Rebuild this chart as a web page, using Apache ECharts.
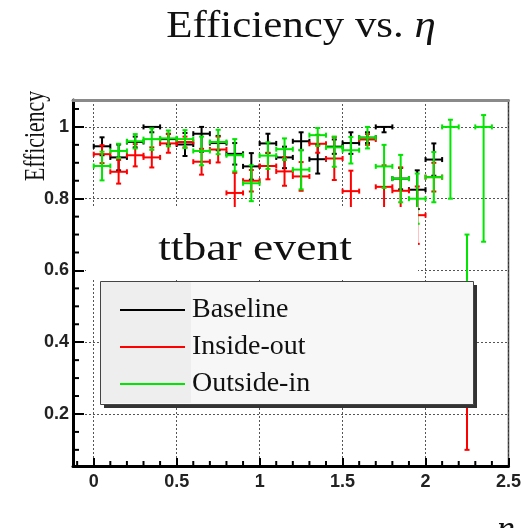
<!DOCTYPE html>
<html>
<head>
<meta charset="utf-8">
<script src="https://cdn.jsdelivr.net/npm/echarts@6/dist/echarts.min.js"></script>
<style>
  html, body { margin: 0; padding: 0; background: #ffffff; }
  #chart { width: 524px; height: 528px; }
</style>
</head>
<body>
<div id="chart"></div>
<script>
// Bin centres in eta (bin width 0.1)
const etaBins = [0.05, 0.15, 0.25, 0.35, 0.45, 0.55, 0.65, 0.75, 0.85, 0.95,
                 1.05, 1.15, 1.25, 1.35, 1.45, 1.55, 1.65, 1.75, 1.85, 1.95,
                 2.05, 2.15, 2.25, 2.35, 2.45];
const binHalfWidth = 0.05;

// Baseline tracking efficiency and its lower / upper errors
const baselineEff   = [0.946, 0.915, 0.958, 1.000, 0.966, 0.951, 0.981, 0.955, 0.925, 0.890,
                       0.954, 0.915, 0.960, 0.910, 0.945, 0.955, 0.970, 1.000, 0.856, 0.825,
                       0.909, null, null, null, null];
const baselineErrLo = [0.025, 0.036, 0.015, 0.015, 0.015, 0.032, 0.050, 0.020, 0.030, 0.037,
                       0.027, 0.030, 0.025, 0.040, 0.020, 0.030, 0.015, 0.015, 0.030, 0.054,
                       0.045, null, null, null, null];
const baselineErrHi = [0.025, 0.036, 0.015, 0.000, 0.015, 0.032, 0.019, 0.020, 0.030, 0.037,
                       0.027, 0.030, 0.025, 0.040, 0.020, 0.030, 0.015, 0.000, 0.030, 0.054,
                       0.045, null, null, null, null];

// Inside-out seeding efficiency (symmetric errors)
const insideOutEff  = [0.924, 0.875, 0.921, 0.915, 0.954, 0.958, 0.903, 0.937, 0.816, 0.850,
                       0.891, 0.876, 0.862, 0.953, 0.912, 0.821, 0.965, 0.833, 0.822, 0.754,
                       0.860, null, 0.250, null, null];
const insideOutErr  = [0.025, 0.033, 0.031, 0.028, 0.026, 0.015, 0.036, 0.036, 0.056, 0.030,
                       0.037, 0.040, 0.040, 0.025, 0.060, 0.057, 0.015, 0.060, 0.065, 0.080,
                       0.040, null, 0.150, null, null];

// Outside-in seeding efficiency and its lower / upper errors
const outsideInEff   = [0.891, 0.933, 0.960, 0.966, 0.968, 0.966, 0.933, 0.958, 0.921, 0.843,
                        0.920, 0.938, 0.881, 0.977, 0.943, 0.935, 0.970, 0.890, 0.856, 0.800,
                        0.860, 1.000, 0.500, 1.000, null];
const outsideInErrLo = [0.040, 0.020, 0.020, 0.030, 0.022, 0.025, 0.040, 0.034, 0.045, 0.050,
                        0.037, 0.030, 0.055, 0.030, 0.054, 0.037, 0.030, 0.060, 0.066, 0.070,
                        0.070, 0.200, 0.200, 0.320, null];
const outsideInErrHi = [0.040, 0.020, 0.020, 0.030, 0.022, 0.025, 0.040, 0.034, 0.045, 0.050,
                        0.037, 0.030, 0.055, 0.020, 0.030, 0.037, 0.030, 0.060, 0.066, 0.070,
                        0.070, 0.020, 0.200, 0.033, null];

// Axis ranges, ticks and labels
const xRange = [-0.125, 2.5];
const yRange = [0.055, 1.075];
const xMajorTicks = [0, 0.5, 1, 1.5, 2, 2.5];
const xMinorTicks = [-0.1, 0.1, 0.2, 0.3, 0.4, 0.6, 0.7, 0.8, 0.9, 1.1, 1.2, 1.3, 1.4,
                     1.6, 1.7, 1.8, 1.9, 2.1, 2.2, 2.3, 2.4];
const yMajorTicks = [0.2, 0.4, 0.6, 0.8, 1];
const yMinorTicks = [0.1, 0.15, 0.25, 0.3, 0.35, 0.45, 0.5, 0.55, 0.65, 0.7, 0.75,
                     0.85, 0.9, 0.95, 1.05];

const seriesNames = ['Baseline', 'Inside-out', 'Outside-in'];
const seriesColors = ['#000000', '#ff0000', '#00e600'];

function buildRows(eff, lo, hi) {
  const rows = [];
  for (let i = 0; i < etaBins.length; i++) {
    if (eff[i] === null) continue;
    rows.push([etaBins[i], eff[i], lo[i], hi[i]]);
  }
  return rows;
}

// Draws one histogram bin: horizontal bar over the bin width, vertical error bar, end caps
function renderCross(params, api) {
  const x = api.value(0), y = api.value(1), lo = api.value(2), hi = api.value(3);
  const c = api.coord([x, y]);
  const l = api.coord([x - binHalfWidth, y]);
  const r = api.coord([x + binHalfWidth, y]);
  const t = api.coord([x, y + hi]);
  const b = api.coord([x, y - lo]);
  const style = { stroke: api.visual('color'), lineWidth: 2 };
  const cap = 2.5;
  const line = (x1, y1, x2, y2) => ({ type: 'line', shape: { x1, y1, x2, y2 }, style });
  const children = [
    line(l[0], c[1], r[0], c[1]),
    line(l[0], c[1] - cap, l[0], c[1] + cap),
    line(r[0], c[1] - cap, r[0], c[1] + cap)
  ];
  if (t[1] < c[1] - 0.5 || b[1] > c[1] + 0.5) {
    children.push(line(c[0], t[1], c[0], b[1]));
    if (hi > 0) children.push(line(c[0] - cap, t[1], c[0] + cap, t[1]));
    if (lo > 0) children.push(line(c[0] - cap, b[1], c[0] + cap, b[1]));
  }
  return { type: 'group', children };
}

// Small inward ticks between the labelled ones
const tickStyle = { stroke: '#000', lineWidth: 2 };
function renderMinorX(params, api) {
  const p = api.coord([api.value(0), yRange[0]]);
  return { type: 'line', shape: { x1: p[0], y1: p[1], x2: p[0], y2: p[1] - 5 }, style: tickStyle };
}
function renderMinorY(params, api) {
  const p = api.coord([xRange[0], api.value(1)]);
  return { type: 'line', shape: { x1: p[0], y1: p[1], x2: p[0] + 6, y2: p[1] }, style: tickStyle };
}

const chart = echarts.init(document.getElementById('chart'), null, { renderer: 'canvas' });

const labelFont = { fontFamily: 'Liberation Sans', fontWeight: 'bold', fontSize: 18, color: '#222' };
const gridLine = { show: true, lineStyle: { color: '#555', type: [2, 2], width: 1 } };

const option = {
  animation: false,
  backgroundColor: '#ffffff',
  legend: {
    orient: 'vertical', left: 115, top: 291, itemGap: 9,
    itemWidth: 65, itemHeight: 2, icon: 'rect',
    data: seriesNames,
    textStyle: { fontFamily: 'Liberation Serif', fontSize: 28, color: '#111', padding: [0, 0, 0, 2] },
    selectedMode: false, z: 10
  },
  grid: { left: 73, right: 12, top: 100, bottom: 62, show: true,
          borderColor: '#333', borderWidth: 1.5, backgroundColor: 'transparent' },
  xAxis: [
    {
      type: 'value', min: xRange[0], max: xRange[1],
      axisLine: { show: true, onZero: false, lineStyle: { color: '#000', width: 3 } },
      axisTick: { show: true, inside: true, length: 8, customValues: xMajorTicks,
                  lineStyle: { color: '#000', width: 2 } },
      axisLabel: { customValues: xMajorTicks, margin: 7, ...labelFont,
                   formatter: v => String(v) },
      splitLine: gridLine
    },
    {
      type: 'value', min: xRange[0], max: xRange[1], position: 'top',
      axisLine: { show: true, onZero: false, lineStyle: { color: '#8a8a8a', width: 3 } },
      axisTick: { show: false }, axisLabel: { show: false }, splitLine: { show: false }
    }
  ],
  yAxis: [
    {
      type: 'value', min: yRange[0], max: yRange[1],
      axisLine: { show: true, onZero: false, lineStyle: { color: '#000', width: 3 } },
      axisTick: { show: true, inside: true, length: 11, customValues: yMajorTicks,
                  lineStyle: { color: '#000', width: 2 } },
      axisLabel: { customValues: yMajorTicks, margin: 4, ...labelFont,
                   formatter: v => String(v) },
      splitLine: gridLine
    }
  ],
  graphic: [
    // plot title
    { type: 'text', x: 301, y: 9, scaleX: 1.16, z: 6,
      style: { text: 'Efficiency vs. {i|η}', font: '37px "Liberation Serif"', fill: '#111',
               align: 'center', verticalAlign: 'top',
               rich: { i: { font: 'italic 37px "Liberation Serif"', fill: '#111' } } } },
    // white pave behind the event label
    { type: 'rect', left: 86, top: 207, shape: { width: 332, height: 73 },
      style: { fill: '#ffffff' }, z: 5 },
    { type: 'text', x: 255, y: 231, scaleX: 1.2, z: 6,
      style: { text: 'ttbar event', font: '38px "Liberation Serif"', fill: '#111',
               align: 'center', verticalAlign: 'top' } },
    // legend frame with drop shadow
    { type: 'rect', left: 104, top: 285, shape: { width: 373, height: 123 },
      style: { fill: '#333333' }, z: 7 },
    { type: 'rect', left: 100, top: 281, shape: { width: 373, height: 123 },
      style: { fill: '#f7f7f7', stroke: '#444', lineWidth: 1 }, z: 8 },
    { type: 'rect', left: 101, top: 282, shape: { width: 90, height: 121 },
      style: { fill: '#eeeeee' }, z: 8 },
    // axis titles
    { type: 'text', x: 36, y: 136, rotation: Math.PI / 2, scaleX: 0.75, z: 6,
      style: { text: 'Efficiency', font: '29px "Liberation Serif"', fill: '#111',
               align: 'center', verticalAlign: 'middle' } },
    { type: 'text', x: 506, y: 513, z: 6,
      style: { text: 'η', font: 'italic 36px "Liberation Serif"', fill: '#111',
               align: 'center', verticalAlign: 'top' } }
  ],
  series: [
    { type: 'custom', renderItem: renderMinorX, clip: false, silent: true, z: 1,
      encode: { x: 0, y: 1 }, data: xMinorTicks.map(v => [v, yRange[0]]) },
    { type: 'custom', renderItem: renderMinorY, clip: false, silent: true, z: 1,
      encode: { x: 0, y: 1 }, data: yMinorTicks.map(v => [xRange[0], v]) },
    { name: seriesNames[0], type: 'custom', renderItem: renderCross, clip: true, z: 2,
      itemStyle: { color: seriesColors[0] },
      encode: { x: 0, y: 1 },
      data: buildRows(baselineEff, baselineErrLo, baselineErrHi) },
    { name: seriesNames[1], type: 'custom', renderItem: renderCross, clip: true, z: 3,
      itemStyle: { color: seriesColors[1] },
      encode: { x: 0, y: 1 },
      data: buildRows(insideOutEff, insideOutErr, insideOutErr) },
    { name: seriesNames[2], type: 'custom', renderItem: renderCross, clip: true, z: 4,
      itemStyle: { color: seriesColors[2] },
      encode: { x: 0, y: 1 },
      data: buildRows(outsideInEff, outsideInErrLo, outsideInErrHi) }
  ]
};

chart.setOption(option);
</script>
</body>
</html>
